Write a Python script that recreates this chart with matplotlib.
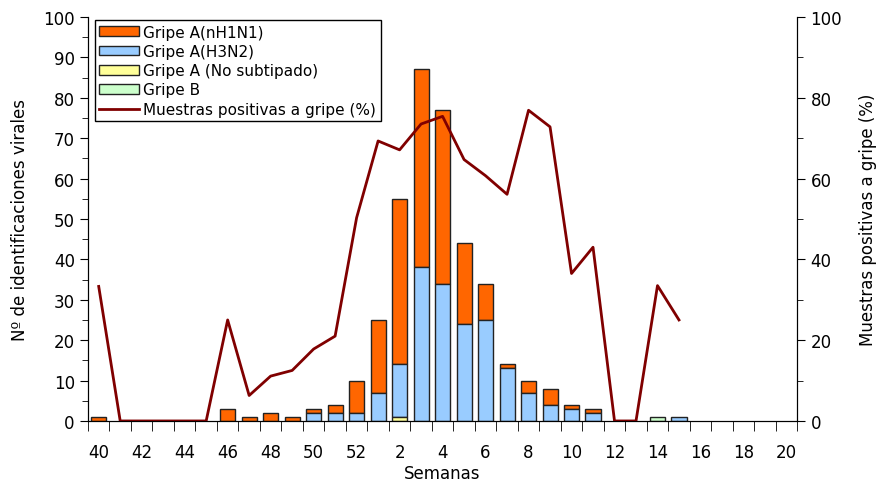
import numpy as np
import matplotlib.pyplot as plt
from matplotlib.ticker import MultipleLocator

# Weeks 40-52 then 1-20
weeks = list(range(40, 53)) + list(range(1, 21))

no_subtipado = [0]*13 + [0, 1] + [0]*18
h3n2 = [0]*10 + [2, 2, 2] + [7, 13, 38, 34, 24, 25, 13, 7, 4, 3, 2, 0, 0, 0, 1, 0, 0, 0, 0, 0]
nh1n1 = [1, 0, 0, 0, 0, 0, 3, 1, 2, 1, 1, 2, 8] + [18, 41, 49, 43, 20, 9, 1, 3, 4, 1, 1, 0, 0, 0, 0, 0, 0, 0, 0, 0]
gripe_b = [0]*13 + [0]*13 + [1] + [0]*6

pct_pos = [33.3, 0, 0, 0, 0, 0, 25, 6.3, 11.1, 12.5, 17.8, 21, 50.3,
           69.3, 67.1, 73.5, 75.4, 64.7, 60.7, 56.1, 76.9, 72.8, 36.5, 43,
           0, 0, 33.5, 25, np.nan, np.nan, np.nan, np.nan, np.nan]

tick_labels = [str(w) if i % 2 == 0 else '' for i, w in enumerate(weeks)]

plt.rcParams['font.family'] = ['DejaVu Sans']
plt.rcParams['font.size'] = 12

fig = plt.figure(figsize=(8.77, 4.85), dpi=100)
ax = fig.add_axes([0.1003, 0.13, 0.8087, 0.833])
ax2 = ax.twinx()

x = np.arange(len(weeks))
w = 0.7
ec = '#222222'


def nz(v):
    # hide empty segments (no zero-height outlines)
    v = np.array(v, dtype=float)
    return np.where(v == 0, np.nan, v)


nos = np.array(no_subtipado)
gb = np.array(gripe_b)
h3 = np.array(h3n2)
h1 = np.array(nh1n1)

b_h1 = ax.bar(x, nz(h1), w, bottom=nos + gb + h3, color='#FF6600', edgecolor=ec, lw=1)
b_h3 = ax.bar(x, nz(h3), w, bottom=nos + gb, color='#99CCFF', edgecolor=ec, lw=1)
b_ns = ax.bar(x, nz(nos), w, color='#FFFF99', edgecolor=ec, lw=1)
b_gb = ax.bar(x, nz(gb), w, bottom=nos, color='#CCFFCC', edgecolor=ec, lw=1)

ln, = ax2.plot(x, pct_pos, color='#800000', lw=2)

ax.set_xlim(-0.5, len(weeks) - 0.5)
ax.set_ylim(0, 100)
ax2.set_ylim(0, 100)
ax.yaxis.set_major_locator(MultipleLocator(10))
ax.yaxis.set_minor_locator(MultipleLocator(5))
ax2.yaxis.set_major_locator(MultipleLocator(20))
ax2.yaxis.set_minor_locator(MultipleLocator(10))

ax.set_xticks(x)
ax.set_xticklabels(tick_labels)
ax.tick_params(axis='x', length=0, pad=16)
ax.set_xticks(np.arange(-0.5, len(weeks)), minor=True)
ax.tick_params(axis='x', which='minor', length=7, direction='out')

ax.tick_params(axis='y', which='major', length=6, direction='out')
ax.tick_params(axis='y', which='minor', length=4, direction='out')
ax2.tick_params(axis='y', which='major', length=6, direction='out')
ax2.tick_params(axis='y', which='minor', length=4, direction='out')

for a in (ax, ax2):
    a.spines['top'].set_visible(False)
ax.set_xlabel('Semanas', labelpad=2)
ax.set_ylabel('Nº de identificaciones virales', labelpad=10)
ax2.set_ylabel('Muestras positivas a gripe (%)', labelpad=12)

leg = ax.legend([b_h1, b_h3, b_ns, b_gb, ln],
                ['Gripe A(nH1N1)', 'Gripe A(H3N2)', 'Gripe A (No subtipado)', 'Gripe B',
                 'Muestras positivas a gripe (%)'],
                loc='upper left', bbox_to_anchor=(0.005, 1.0), fontsize=11,
                frameon=True, fancybox=False, edgecolor='black', framealpha=1,
                handlelength=2.6, handleheight=0.6, labelspacing=0.28,
                borderpad=0.3, handletextpad=0.3, borderaxespad=0.2)
leg.get_frame().set_linewidth(1)

fig.savefig('out.png', dpi=100)
